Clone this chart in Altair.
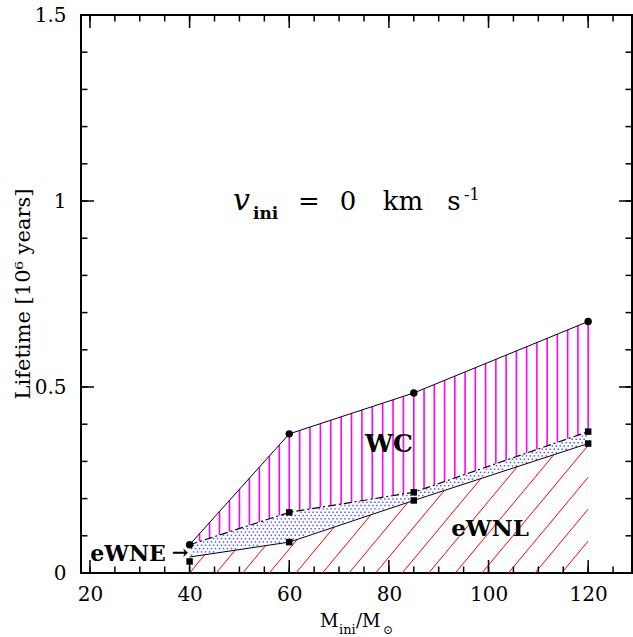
import altair as alt
import numpy as np
import pandas as pd

# ---------------- data ----------------
mass = [40, 60, 85, 120]
wc_top = [0.076, 0.374, 0.484, 0.676]        # upper boundary (circles)
wne_top = [0.076, 0.163, 0.217, 0.380]       # dash-dot boundary (WC / eWNE)
wnl_top = [0.043, 0.083, 0.195, 0.348]       # solid boundary (eWNE / eWNL)
wne_sq_mass = [60, 85, 120]
wne_sq_y = [0.163, 0.217, 0.380]
wnl_sq_y = [0.031, 0.083, 0.195, 0.348]

x_major = [20, 40, 60, 80, 100, 120]
x_minor = [20, 25, 30, 35, 40, 45, 50, 55, 60, 65, 70, 75, 80, 85, 90, 95,
           100, 105, 110, 115, 120, 125]
y_major = [0, 0.5, 1, 1.5]
y_minor = [0, 0.1, 0.2, 0.3, 0.4, 0.5, 0.6, 0.7, 0.8, 0.9, 1.0, 1.1, 1.2,
           1.3, 1.4, 1.5]

region_labels = ["WC", "eWNL", "eWNE"]

# ---------------- geometry ----------------
W, H = 551, 558
FONT = "DejaVu Serif"
xs = alt.Scale(domain=[18.2, 128.8], nice=False, zero=False)
ys = alt.Scale(domain=[0, 1.5], nice=False, zero=False)
xaxis = alt.Axis(values=x_major, format="d", tickSize=0, domain=False, grid=False,
                 labelFont=FONT, labelFontSize=20, labelPadding=11,
                 labelColor="black", title=None)
yaxis = alt.Axis(values=y_major, format="~g", tickSize=0, domain=False, grid=False,
                 labelFont=FONT, labelFontSize=20, labelPadding=15,
                 labelColor="black", title=None, labelAlign="right")


def X(f="x"):
    return alt.X(f, type="quantitative", scale=xs, axis=xaxis)


def Y(f="y"):
    return alt.Y(f, type="quantitative", scale=ys, axis=yaxis)


# ---------------- decorative fills ----------------
# magenta vertical hatching between wne_top and wc_top
n_seg = [10, 12, 17]
hx = []
for i, n in enumerate(n_seg):
    pts = np.linspace(mass[i], mass[i + 1], n + 1)
    hx.extend(pts if i == 0 else pts[1:])
hx = np.array(hx)
mag = pd.DataFrame({"x": hx, "y": np.interp(hx, mass, wne_top),
                    "y2": np.interp(hx, mass, wc_top)})
mag = mag[mag.y2 - mag.y > 0.002]

# red diagonal hatching below wnl_top
slope = 0.01608
spacing = 80 / 15
red_rows = []
for k in range(15):
    x0 = 40 + k * spacing
    xx = np.linspace(x0, 120, 3000)
    f = slope * (xx - x0) - np.interp(xx, mass, wnl_top)
    idx = np.argmax(f >= 0) if np.any(f >= 0) else len(xx) - 1
    xe = xx[idx]
    red_rows.append({"x": x0, "y": 0.0, "x2": xe, "y2": slope * (xe - x0)})
red = pd.DataFrame(red_rows)

# blue dotted pattern between wnl_top and wne_top
dots = []
gx, gy = 0.8, 0.0089
for j in range(60):
    yy = 0.03 + j * gy
    off = (j % 2) * gx / 2
    for xv in np.arange(40.4 + off, 120, gx):
        lo = np.interp(xv, mass, wnl_top)
        hi = np.interp(xv, mass, wne_top)
        if lo + 0.003 < yy < hi - 0.003:
            dots.append({"x": xv, "y": yy})
dots = pd.DataFrame(dots)

# ---------------- layers ----------------
dot_layer = alt.Chart(dots).mark_square(size=2.2, color="#2f3cff", opacity=0.85).encode(x=X(), y=Y())
red_layer = alt.Chart(red).mark_rule(color="#ff0000", strokeWidth=1).encode(
    x=X(), y=Y(), x2="x2", y2="y2")
mag_layer = alt.Chart(mag).mark_rule(color="#ff00ff", strokeWidth=1.6).encode(
    x=X(), y=Y(), y2="y2")

curves = pd.DataFrame({"x": mass, "wc": wc_top, "wne": wne_top, "wnl": wnl_top})
l_wc = alt.Chart(curves).mark_line(color="black", strokeWidth=1).encode(x=X(), y=Y("wc"))
l_wne = alt.Chart(curves).mark_line(color="black", strokeWidth=1.2, strokeDash=[8, 3, 2, 3]).encode(x=X(), y=Y("wne"))
l_wnl = alt.Chart(curves).mark_line(color="black", strokeWidth=1).encode(x=X(), y=Y("wnl"))

circ = alt.Chart(pd.DataFrame({"x": mass, "y": wc_top})).mark_circle(
    size=55, color="black", opacity=1).encode(x=X(), y=Y())
sq1 = alt.Chart(pd.DataFrame({"x": wne_sq_mass, "y": wne_sq_y})).mark_square(
    size=42, color="black", opacity=1).encode(x=X(), y=Y())
sq2 = alt.Chart(pd.DataFrame({"x": mass, "y": wnl_sq_y})).mark_square(
    size=42, color="black", opacity=1).encode(x=X(), y=Y())

# ---------------- ticks (inward, all four sides) ----------------
def xticks(vals, length):
    d = pd.DataFrame({"x": vals})
    bot = alt.Chart(d).mark_rule(color="black", strokeWidth=1.5).encode(
        x=X(), y=alt.value(H), y2=alt.value(H - length))
    top = alt.Chart(d).mark_rule(color="black", strokeWidth=1.5).encode(
        x=X(), y=alt.value(0), y2=alt.value(length))
    return bot + top


def yticks(vals, length):
    d = pd.DataFrame({"y": vals})
    left = alt.Chart(d).mark_rule(color="black", strokeWidth=1.5).encode(
        y=Y(), x=alt.value(0), x2=alt.value(length))
    right = alt.Chart(d).mark_rule(color="black", strokeWidth=1.5).encode(
        y=Y(), x=alt.value(W), x2=alt.value(W - length))
    return left + right


ticks = xticks(x_minor, 6.5) + xticks(x_major, 13) + yticks(y_minor, 6.5) + yticks(y_major, 13)

# ---------------- texts ----------------
def txt(s, x, y, size, weight="normal", style="normal", align="center", angle=0, baseline="alphabetic"):
    props = dict(font=FONT, fontSize=size, fontWeight=weight, fontStyle=style,
                 align=align, baseline=baseline, color="black")
    if angle:
        props["angle"] = angle
    return alt.Chart(pd.DataFrame({"t": [s]})).mark_text(**props).encode(
        text="t:N", x=alt.value(x), y=alt.value(y))

OX, OY = 81, 15  # plot origin inside the page
texts = [
    # v_ini = 0 km s^-1
    txt("v", 233 - OX, 210 - OY, 30, style="italic", align="left"),
    txt("ini", 253 - OX, 219 - OY, 17, weight="bold", align="left"),
    txt("=", 309 - OX, 210 - OY, 26),
    txt("0", 348 - OX, 210 - OY, 26),
    txt("km", 403 - OX, 210 - OY, 26),
    txt("s", 454 - OX, 210 - OY, 26),
    txt("-1", 464 - OX, 200 - OY, 16, align="left"),
    # region labels
    txt(region_labels[0], 389 - OX, 452 - OY, 25, weight="bold"),
    txt(region_labels[1], 490 - OX, 536 - OY, 23, weight="bold"),
    txt(region_labels[2], 128 - OX, 561 - OY, 22, weight="bold"),
    txt("→", 180 - OX, 559 - OY, 20, weight="bold"),
    # x title M_ini / M_sun
    txt("M", 320 - OX, 627 - OY, 18, align="left"),
    txt("ini", 339 - OX, 634 - OY, 13, align="left"),
    txt("/M", 356 - OX, 627 - OY, 18, align="left"),
    txt("⊙", 388 - OX, 634 - OY, 12),
    # y title
    txt("Lifetime [10⁶ years]", 24 - OX, 294 - OY, 21, angle=270, baseline="middle"),
]

chart = alt.layer(dot_layer, red_layer, mag_layer, l_wne, l_wnl, l_wc,
                  circ, sq1, sq2, ticks, *texts).properties(
    width=W, height=H,
    padding={"left": OX, "top": OY, "right": 1, "bottom": 64},
    autosize=alt.AutoSizeParams(type="none"),
).configure_view(stroke="black", strokeWidth=2)

chart.save("out.html", embed_options={"renderer": "svg", "actions": False})
